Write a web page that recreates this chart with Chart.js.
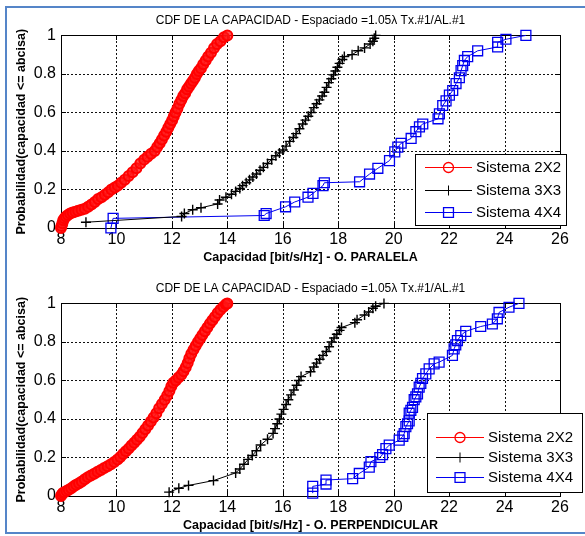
<!DOCTYPE html>
<html>
<head>
<meta charset="utf-8">
<script src="https://cdn.jsdelivr.net/npm/chart.js@4/dist/chart.umd.min.js"></script>
<style>
    html, body { margin: 0; padding: 0; background: #fff; }
    body { width: 585px; height: 536px; position: relative; overflow: hidden; }
    .panel { position: absolute; left: 0; width: 585px; height: 268px; }
    #frame {
        position: absolute; left: 5px; top: 6px; width: 640px; height: 528px;
        box-sizing: border-box; border: 2px solid #5585c8; pointer-events: none;
    }
</style>
</head>
<body>
<div class="panel" style="top:0"><canvas id="chartParalela"></canvas></div>
<div class="panel" style="top:268px"><canvas id="chartPerpendicular"></canvas></div>
<div id="frame"></div>
<script>
// ---- datos: [capacidad, probabilidad] ----
const titulo = 'CDF DE LA CAPACIDAD - Espaciado =1.05\u03bb Tx.#1/AL.#1';
const seriesNames = ['Sistema 2X2', 'Sistema 3X3', 'Sistema 4X4'];
const xTicks = [8, 10, 12, 14, 16, 18, 20, 22, 24, 26];
const yTicks = [0, 0.2, 0.4, 0.6, 0.8, 1];

// O. PARALELA
const paralela2x2 = [
    [8.00,0],[8.02,0.01],[8.05,0.025],[8.08,0.04],[8.12,0.05],[8.18,0.06],[8.25,0.068],[8.33,0.075],
    [8.42,0.08],[8.52,0.085],[8.62,0.09],[8.74,0.095],[8.86,0.10],[8.98,0.11],[9.10,0.122],[9.22,0.135],
    [9.34,0.15],[9.46,0.16],[9.58,0.172],[9.70,0.185],[9.82,0.20],[9.94,0.21],[10.05,0.22],[10.17,0.235],
    [10.30,0.25],[10.44,0.27],[10.58,0.29],[10.72,0.31],[10.86,0.335],[11.00,0.355],[11.12,0.37],[11.25,0.385],
    [11.38,0.40],[11.47,0.42],[11.56,0.44],[11.64,0.46],[11.72,0.48],[11.80,0.50],[11.87,0.52],[11.94,0.54],
    [12.01,0.56],[12.07,0.58],[12.13,0.60],[12.20,0.62],[12.27,0.645],[12.34,0.665],[12.41,0.685],[12.48,0.70],
    [12.55,0.72],[12.62,0.735],[12.69,0.75],[12.76,0.765],[12.83,0.78],[12.90,0.80],[12.97,0.815],[13.05,0.83],
    [13.13,0.85],[13.22,0.87],[13.31,0.89],[13.41,0.91],[13.52,0.935],[13.63,0.955],[13.75,0.97],[13.88,0.99],[14.00,1.0]
];
const paralela3x3 = [
    [8.9,0.03],[12.35,0.06],[12.45,0.075],[12.75,0.095],[13.05,0.105],[13.65,0.125],[13.72,0.145],[13.95,0.16],
    [14.15,0.175],[14.3,0.19],[14.45,0.205],[14.55,0.22],[14.68,0.235],[14.8,0.25],[14.92,0.265],[15.05,0.28],
    [15.18,0.30],[15.3,0.315],[15.45,0.335],[15.6,0.355],[15.75,0.375],[15.88,0.39],[16.0,0.405],[16.12,0.425],
    [16.25,0.45],[16.38,0.47],[16.48,0.49],[16.6,0.515],[16.72,0.54],[16.82,0.56],[16.92,0.58],[17.02,0.60],
    [17.12,0.625],[17.22,0.645],[17.32,0.665],[17.42,0.685],[17.5,0.705],[17.58,0.73],[17.66,0.755],[17.75,0.775],
    [17.83,0.795],[17.9,0.815],[17.97,0.835],[18.05,0.855],[18.15,0.875],[18.22,0.89],[18.5,0.90],[18.72,0.92],
    [18.95,0.935],[19.15,0.955],[19.25,0.97],[19.3,0.985],[19.35,1.0]
];
const paralela4x4 = [
    [9.8,0.0],[9.88,0.05],[15.33,0.065],[15.4,0.075],[16.1,0.11],[16.43,0.135],[16.91,0.16],[17.09,0.18],
    [17.45,0.22],[17.5,0.235],[18.77,0.24],[19.13,0.28],[19.43,0.31],[19.85,0.35],[20.04,0.395],[20.15,0.42],
    [20.27,0.44],[20.63,0.465],[20.8,0.50],[20.93,0.525],[21.05,0.54],[21.6,0.567],[21.65,0.593],[21.77,0.636],
    [21.89,0.66],[22.01,0.69],[22.13,0.714],[22.25,0.75],[22.37,0.78],[22.43,0.817],[22.49,0.843],[22.55,0.87],
    [22.67,0.89],[23.03,0.92],[23.75,0.94],[23.75,0.964],[24.05,0.98],[24.77,1.0]
];

// O. PERPENDICULAR
const perpendicular2x2 = [
    [8.00,0],[8.03,0.008],[8.07,0.015],[8.12,0.02],[8.2,0.026],[8.28,0.033],[8.37,0.04],[8.46,0.05],
    [8.55,0.058],[8.65,0.066],[8.75,0.075],[8.86,0.087],[8.97,0.098],[9.08,0.106],[9.2,0.116],[9.32,0.126],
    [9.44,0.135],[9.56,0.145],[9.68,0.155],[9.8,0.165],[9.92,0.176],[10.04,0.19],[10.14,0.203],[10.24,0.218],
    [10.34,0.232],[10.44,0.246],[10.54,0.262],[10.64,0.277],[10.74,0.292],[10.84,0.308],[10.94,0.327],[11.04,0.346],
    [11.14,0.366],[11.24,0.387],[11.34,0.407],[11.44,0.43],[11.54,0.455],[11.64,0.478],[11.74,0.50],[11.83,0.522],
    [11.91,0.545],[11.98,0.57],[12.05,0.588],[12.14,0.60],[12.24,0.615],[12.34,0.63],[12.42,0.648],[12.5,0.668],
    [12.57,0.69],[12.63,0.715],[12.7,0.738],[12.78,0.76],[12.86,0.78],[12.94,0.80],[13.02,0.818],[13.1,0.836],
    [13.19,0.855],[13.28,0.875],[13.37,0.895],[13.46,0.913],[13.55,0.93],[13.65,0.95],[13.75,0.967],[13.86,0.983],
    [13.95,0.995],[14.0,1.0]
];
const perpendicular3x3 = [
    [11.9,0.02],[12.25,0.04],[12.6,0.055],[13.5,0.08],[14.3,0.12],[14.45,0.14],[14.6,0.165],[14.75,0.19],
    [14.9,0.21],[15.05,0.235],[15.2,0.265],[15.45,0.295],[15.65,0.325],[15.72,0.35],[15.8,0.375],[15.88,0.40],
    [15.95,0.425],[16.03,0.45],[16.12,0.475],[16.2,0.50],[16.3,0.525],[16.4,0.55],[16.5,0.575],[16.58,0.60],
    [16.66,0.62],[17.0,0.645],[17.12,0.67],[17.22,0.69],[17.33,0.71],[17.45,0.73],[17.57,0.75],[17.67,0.775],
    [17.76,0.80],[17.85,0.82],[17.95,0.84],[18.05,0.86],[18.12,0.875],[18.6,0.90],[18.68,0.915],[18.95,0.94],
    [19.1,0.955],[19.25,0.975],[19.35,0.985],[19.65,1.0]
];
const perpendicular4x4 = [
    [17.08,0.015],[17.08,0.05],[17.56,0.062],[17.56,0.083],[18.52,0.09],[18.76,0.117],[19.12,0.15],[19.18,0.178],
    [19.5,0.20],[19.6,0.215],[19.72,0.246],[19.84,0.264],[20.2,0.29],[20.33,0.31],[20.38,0.324],[20.44,0.36],
    [20.5,0.375],[20.56,0.39],[20.56,0.43],[20.62,0.445],[20.68,0.46],[20.74,0.50],[20.8,0.515],[20.86,0.53],
    [20.92,0.565],[20.98,0.585],[21.04,0.61],[21.16,0.634],[21.28,0.66],[21.46,0.686],[21.64,0.695],[22.12,0.73],
    [22.18,0.764],[22.24,0.785],[22.3,0.807],[22.42,0.833],[22.6,0.855],[23.14,0.88],[23.56,0.893],[23.74,0.92],
    [23.8,0.953],[24.16,0.98],[24.52,1.0]
];

const FONT = "'Liberation Sans', Arial, Helvetica, sans-serif";

// estilo de cada sistema (como en matlab: 'r-o', 'k-+', 'b-s')
const estilos = [
    { color: '#ff0000', pointStyle: 'circle', radius: 5, fill: 'rgba(255,20,20,0.75)', borderWidth: 2 },
    { color: '#000000', pointStyle: 'cross', radius: 5, fill: 'transparent', borderWidth: 1.4 },
    { color: '#0000f0', pointStyle: 'rect', radius: 7, fill: 'transparent', borderWidth: 1.3 }
];

function makeDatasets(series) {
    return series.map((pts, i) => ({
        label: seriesNames[i],
        data: pts.map(p => ({ x: p[0], y: p[1] })),
        showLine: true,
        borderColor: estilos[i].color,
        borderWidth: 1,
        pointStyle: estilos[i].pointStyle,
        pointRadius: estilos[i].radius,
        pointBorderColor: estilos[i].color,
        pointBackgroundColor: estilos[i].fill,
        pointBorderWidth: estilos[i].borderWidth,
        clip: false
    }));
}

// rejilla punteada y caja de ejes con marcas hacia dentro
const matlabBox = {
    id: 'matlabBox',
    beforeDatasetsDraw(chart) {
        const { ctx, chartArea: a } = chart;
        const x = chart.scales.x, y = chart.scales.y;
        const top = Math.round(a.top), bottom = Math.round(a.bottom);
        const left = Math.round(a.left), right = Math.round(a.right);
        const xs = xTicks.map(v => Math.round(left + (v - x.min) / (x.max - x.min) * (right - left)));
        const ys = yTicks.map(v => Math.round(bottom - (v - y.min) / (y.max - y.min) * (bottom - top)));
        ctx.save();
        // rejilla: puntos de 2px cada 4px
        ctx.fillStyle = '#111';
        xs.slice(1, -1).forEach(px => {
            for (let py = top + 2; py < bottom - 1; py += 4) ctx.fillRect(px, py, 1, 2);
        });
        ys.slice(1, -1).forEach(py => {
            for (let px = left + 2; px < right - 1; px += 4) ctx.fillRect(px, py, 2, 1);
        });
        // marcas y caja
        ctx.strokeStyle = '#000';
        ctx.lineWidth = 1;
        ctx.beginPath();
        xs.forEach(px => {
            ctx.moveTo(px + 0.5, bottom); ctx.lineTo(px + 0.5, bottom - 5);
            ctx.moveTo(px + 0.5, top); ctx.lineTo(px + 0.5, top + 5);
        });
        ys.forEach(py => {
            ctx.moveTo(left, py + 0.5); ctx.lineTo(left + 5, py + 0.5);
            ctx.moveTo(right, py + 0.5); ctx.lineTo(right - 5, py + 0.5);
        });
        ctx.stroke();
        ctx.strokeRect(left + 0.5, top + 0.5, right - left, bottom - top);
        ctx.restore();
    }
};

// leyenda dentro de los ejes, al estilo matlab
const matlabLegend = {
    id: 'matlabLegend',
    afterDatasetsDraw(chart, args, opts) {
        const { ctx } = chart;
        const b = opts.box;
        ctx.save();
        ctx.fillStyle = '#fff';
        ctx.fillRect(b.left, b.top, b.width, b.height);
        ctx.strokeStyle = '#000';
        ctx.lineWidth = 1;
        ctx.strokeRect(b.left + 0.5, b.top + 0.5, b.width, b.height);
        ctx.font = '15px ' + FONT;
        ctx.textBaseline = 'middle';
        chart.data.datasets.forEach((ds, i) => {
            const yy = Math.round(b.top + opts.rows[i]) + 0.5;
            ctx.strokeStyle = ds.borderColor;
            ctx.lineWidth = 1;
            ctx.beginPath();
            ctx.moveTo(opts.lineFrom, yy);
            ctx.lineTo(opts.lineTo, yy);
            ctx.stroke();
            ctx.lineWidth = i === 1 ? 1 : 1.3;
            ctx.fillStyle = 'transparent';
            Chart.helpers.drawPoint(ctx, {
                pointStyle: ds.pointStyle, radius: ds.pointRadius, rotation: 0, borderWidth: ctx.lineWidth
            }, (opts.lineFrom + opts.lineTo) / 2, yy);
            ctx.fillStyle = '#000';
            ctx.fillText(ds.label, opts.textX, yy);
        });
        ctx.restore();
    }
};

function makeChart(id, series, xLabel, legendOpts) {
    return new Chart(document.getElementById(id), {
        type: 'scatter',
        data: { datasets: makeDatasets(series) },
        plugins: [matlabBox, matlabLegend],
        options: {
            responsive: true,
            maintainAspectRatio: false,
            animation: false,
            layout: { padding: { left: 0, right: 25, top: 0, bottom: 0 } },
            plugins: {
                legend: { display: false },
                tooltip: { enabled: false },
                title: {
                    display: true,
                    fullSize: false,
                    text: titulo,
                    color: '#000',
                    font: { family: FONT, size: 12, weight: 'normal' },
                    padding: { top: 13, bottom: 8 }
                },
                matlabLegend: legendOpts
            },
            scales: {
                x: {
                    type: 'linear',
                    min: 8, max: 26,
                    afterBuildTicks: s => { s.ticks = xTicks.map(v => ({ value: v })); },
                    afterFit: s => { s.height = 40; },
                    ticks: { color: '#000', padding: 2, maxRotation: 0, font: { family: FONT, size: 16 } },
                    grid: { display: false, drawTicks: false },
                    border: { display: false },
                    title: {
                        display: true, text: xLabel, color: '#000',
                        font: { family: FONT, size: 12.5, weight: 'bold' },
                        padding: { top: 0, bottom: 3 }
                    }
                },
                y: {
                    type: 'linear',
                    min: 0, max: 1,
                    afterBuildTicks: s => { s.ticks = yTicks.map(v => ({ value: v })); },
                    afterFit: s => { s.width = 61; },
                    ticks: {
                        color: '#000', padding: 5, font: { family: FONT, size: 16 },
                        callback: v => String(Math.round(v * 10) / 10)
                    },
                    grid: { display: false, drawTicks: false },
                    border: { display: false },
                    title: {
                        display: true, text: 'Probabilidad(capacidad <= abcisa)', color: '#000',
                        font: { family: FONT, size: 12.5, weight: 'bold' },
                        padding: { top: 14, bottom: 0 }
                    }
                }
            }
        }
    });
}

makeChart('chartParalela', [paralela2x2, paralela3x3, paralela4x4],
    'Capacidad [bit/s/Hz] - O. PARALELA',
    { box: { left: 415, top: 154, width: 151, height: 71 }, rows: [13, 36, 58], lineFrom: 425, lineTo: 472, textX: 476 });

makeChart('chartPerpendicular', [perpendicular2x2, perpendicular3x3, perpendicular4x4],
    'Capacidad [bit/s/Hz] - O. PERPENDICULAR',
    { box: { left: 427, top: 145, width: 155, height: 79 }, rows: [24, 44, 64], lineFrom: 436, lineTo: 484, textX: 488 });
</script>
</body>
</html>
